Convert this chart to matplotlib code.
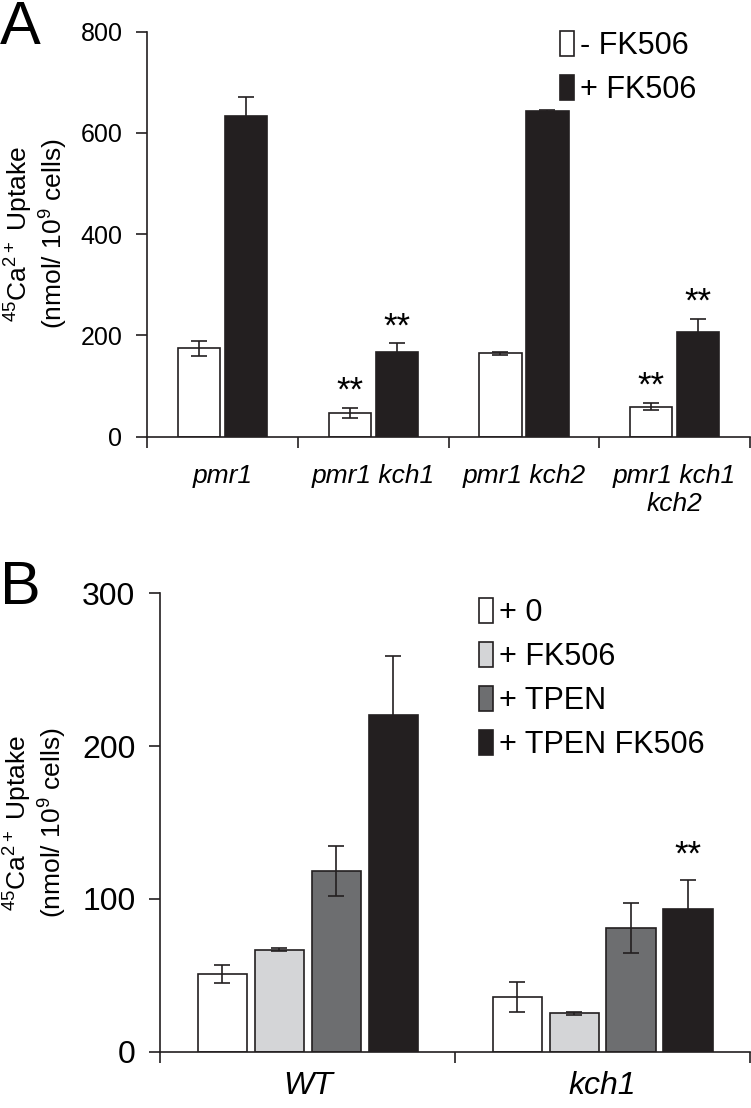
import numpy as np
import matplotlib
matplotlib.use("Agg")
import matplotlib.pyplot as plt
from matplotlib import font_manager

# panel A data
strains_a = ["pmr1", "pmr1 kch1", "pmr1 kch2", "pmr1 kch1\nkch2"]
minus_fk = [174, 47, 165, 59]
minus_fk_err = [15, 10, 3, 7]
plus_fk = [633, 167, 644, 206]
plus_fk_err = [38, 17, 2, 26]
stars_minus = [False, True, False, True]
stars_plus = [False, True, False, True]

# panel B data
strains_b = ["WT", "kch1"]
treat_labels = ["+ 0", "+ FK506", "+ TPEN", "+ TPEN FK506"]
treat_vals = [[50.8, 35.9], [66.8, 25.1], [118.2, 80.9], [220.2, 93.7]]
treat_err = [[6, 10], [1, 1], [16.5, 16.5], [39, 19]]
treat_colors = ["white", "#d4d5d7", "#6d6e70", "#231f20"]
stars_b = [[False, False], [False, False], [False, False], [False, True]]

names = {f.name for f in font_manager.fontManager.ttflist}
narrow = "Liberation Sans Narrow" if "Liberation Sans Narrow" in names else "Liberation Sans"
plt.rcParams["font.family"] = [narrow, "DejaVu Sans"]
plt.rcParams["mathtext.fontset"] = "custom"
plt.rcParams["mathtext.rm"] = "Liberation Sans"

fig = plt.figure(figsize=(7.51, 11.08), dpi=100)
ylab = "$^{45}$Ca$^{2+}$ Uptake\n(nmol/ 10$^{9}$ cells)"
ink = "#231f20"


def style_axes(ax, ncat, tick_fs, xpad):
    ax.spines["top"].set_visible(False)
    ax.spines["right"].set_visible(False)
    ax.set_xlim(-0.5, ncat - 0.5)
    ax.set_xticks(np.arange(ncat))
    ax.set_xticks(np.arange(ncat + 1) - 0.5, minor=True)
    ax.tick_params(axis="x", which="major", length=0, pad=xpad)
    ax.tick_params(axis="x", which="minor", length=8, width=1.2, direction="out", color=ink)
    ax.tick_params(axis="y", length=8, width=1.2, labelsize=tick_fs, pad=10, color=ink)
    for s in ["left", "bottom"]:
        ax.spines[s].set_linewidth(1.2)
        ax.spines[s].set_color(ink)


ek = dict(ecolor=ink, elinewidth=1.2, capsize=6, capthick=1.2)

# ---- panel A
axA = fig.add_axes([0.1964, 0.606, 0.802, 0.3655])
x = np.arange(len(strains_a))
w = 0.28
off = 0.156
axA.bar(x - off, minus_fk, w, yerr=minus_fk_err, color="white", edgecolor=ink,
        linewidth=1.2, error_kw=ek, label="- FK506")
axA.bar(x + off, plus_fk, w, yerr=plus_fk_err, color=ink, edgecolor=ink,
        linewidth=1.2, error_kw=ek, label="+ FK506")
for i in range(len(x)):
    if stars_minus[i]:
        axA.text(x[i] - off, minus_fk[i] + minus_fk_err[i] + 14, "**", ha="center", fontsize=25)
    if stars_plus[i]:
        axA.text(x[i] + off, plus_fk[i] + plus_fk_err[i] + 14, "**", ha="center", fontsize=25)
axA.set_ylim(0, 800)
axA.set_yticks([0, 200, 400, 600, 800])
style_axes(axA, len(strains_a), 18, 20)
axA.set_xticklabels(strains_a, style="italic", fontsize=19, linespacing=1.2)
axA.set_ylabel(ylab, fontsize=19, family="Liberation Sans", labelpad=8, linespacing=1.1)
axA.legend(loc="upper left", bbox_to_anchor=(0.64, 1.07), frameon=False, fontsize=22,
           handlelength=0.45, handleheight=0.9, handletextpad=0.2, labelspacing=0.45)
fig.text(0.0, 1.0, "A", fontsize=44, va="top", ha="left")

# ---- panel B
axB = fig.add_axes([0.2136, 0.0507, 0.785, 0.4139])
xb = np.arange(len(strains_b))
wb = 0.167
step = 0.193
for k in range(len(treat_labels)):
    pos = xb + (k - 1.5) * step
    axB.bar(pos, treat_vals[k], wb, yerr=treat_err[k], color=treat_colors[k],
            edgecolor=ink, linewidth=1.2, error_kw=ek, label=treat_labels[k])
    for i in range(len(xb)):
        if stars_b[k][i]:
            axB.text(pos[i], treat_vals[k][i] + treat_err[k][i] + 10, "**", ha="center", fontsize=25)
axB.set_ylim(0, 300)
axB.set_yticks([0, 100, 200, 300])
style_axes(axB, len(strains_b), 23, 14)
axB.set_xticklabels(strains_b, style="italic", fontsize=23)
axB.set_ylabel(ylab, fontsize=19, family="Liberation Sans", labelpad=10, linespacing=1.1)
axB.legend(loc="upper right", bbox_to_anchor=(0.97, 1.05), frameon=False, fontsize=22,
           handlelength=0.45, handleheight=0.9, handletextpad=0.2, labelspacing=0.45)
fig.text(0.0, 0.495, "B", fontsize=44, va="top", ha="left")

fig.savefig("out.png", dpi=100)
